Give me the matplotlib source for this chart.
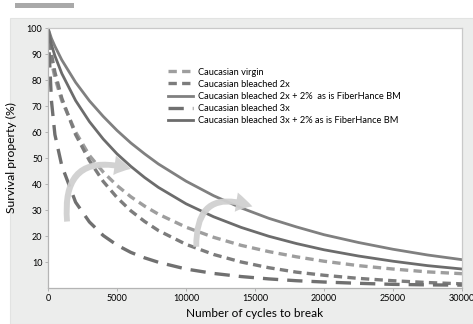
import matplotlib.pyplot as plt
from matplotlib.patches import Rectangle, FancyArrowPatch

plt.rcParams['font.family'] = ['Lato', 'DejaVu Sans']
plt.rcParams['lines.scale_dashes'] = False

# values (survival % vs cycles)
cycles = [0, 250, 500, 1000, 2000, 3000, 4000, 5000, 6000, 7000, 8000,
          10000, 12000, 14000, 16000, 18000, 20000, 22500, 25000, 27500, 30000]
virgin = [100, 87, 81, 72, 60, 51, 44.6, 39.4, 35.1, 31.5, 28.4,
          23.4, 19.5, 16.4, 14.0, 12.0, 10.3, 8.6, 7.3, 6.2, 5.5]
bleached_2x = [100, 90, 83, 73, 59, 49, 41, 34.8, 29.7, 25.6, 22.1,
               16.8, 12.9, 10.0, 7.8, 6.1, 4.9, 3.7, 2.8, 2.1, 1.6]
bleached_2x_fh = [100, 96, 93, 87.7, 79.1, 72, 66, 60.6, 55.8, 51.6, 47.7,
                  41.1, 35.5, 30.8, 26.8, 23.5, 20.5, 17.5, 14.9, 12.7, 10.9]
bleached_3x = [100, 72, 59, 47, 33, 25.4, 20.2, 16.5, 13.7, 11.6, 9.9,
               7.3, 5.6, 4.4, 3.5, 2.8, 2.3, 1.8, 1.4, 1.2, 1.1]
bleached_3x_fh = [100, 93.6, 89.3, 82.5, 72.1, 64, 57.3, 51.6, 46.8, 42.5, 38.7,
                  32.4, 27.4, 23.3, 19.9, 17.1, 14.7, 12.3, 10.3, 8.6, 7.3]

labels = ['Caucasian virgin',
          'Caucasian bleached 2x',
          'Caucasian bleached 2x + 2%  as is FiberHance BM',
          'Caucasian bleached 3x',
          'Caucasian bleached 3x + 2% as is FiberHance BM']
x_ticks = [0, 5000, 10000, 15000, 20000, 25000, 30000]
y_ticks = [10, 20, 30, 40, 50, 60, 70, 80, 90, 100]

W, H = 473, 324
fig = plt.figure(figsize=(W / 100, H / 100), dpi=100)

# grey panel behind the chart and the small bar on top
fig.patches.append(Rectangle((10 / W, 0), 1, 1 - 18 / H, transform=fig.transFigure,
                             facecolor='#ecedec', edgecolor='#e2e3e2', lw=0.8, zorder=-10))
fig.patches.append(Rectangle((15 / W, 1 - 8 / H), 59 / W, 5 / H, transform=fig.transFigure,
                             facecolor='#a9a9a9', edgecolor='none', zorder=-10))

ax = fig.add_axes([48 / W, 1 - 288 / H, 414 / W, 260 / H])
ax.set_facecolor('white')

ax.plot(cycles, virgin, color='#9e9e9e', lw=2.4, dashes=(6, 3.8), label=labels[0])
ax.plot(cycles, bleached_2x, color='#7c7c7c', lw=2.4, dashes=(6, 3.8), label=labels[1])
ax.plot(cycles, bleached_2x_fh, color='#808080', lw=2.0, label=labels[2])
ax.plot(cycles, bleached_3x, color='#707070', lw=2.4, dashes=(11, 6.5), label=labels[3])
ax.plot(cycles, bleached_3x_fh, color='#6c6c6c', lw=2.0, label=labels[4])

# curved arrows: bleached -> bleached + FiberHance
for tail, head in [((1400, 24.5), (6200, 45.5)), ((10750, 14.8), (15000, 31.0))]:
    arr = FancyArrowPatch(tail, head, connectionstyle='arc3,rad=-0.75',
                          arrowstyle='simple,head_width=14,head_length=12,tail_width=4.2',
                          facecolor='#d0d0d0', edgecolor='none', alpha=0.95, zorder=5)
    ax.add_patch(arr)

ax.set_xlim(0, 30000)
ax.set_ylim(0, 100)
ax.set_xticks(x_ticks)
ax.set_yticks(y_ticks)
ax.tick_params(labelsize=6.5, length=2, width=0.6, color='#aaaaaa', pad=2)

for side in ['top', 'right']:
    ax.spines[side].set_color('#c9c9c9')
for side in ['left', 'bottom']:
    ax.spines[side].set_color('#b4b4b4')
for sp in ax.spines.values():
    sp.set_linewidth(0.9)

ax.set_xlabel('Number of cycles to break', fontsize=8.5, labelpad=4)
ax.set_ylabel('Survival property (%)', fontsize=8.7, labelpad=7)

ax.legend(loc='upper left', bbox_to_anchor=(163 / W, 1 - 63 / H),
          bbox_transform=fig.transFigure, frameon=False, fontsize=6.7,
          handlelength=2.7, handletextpad=0.6, labelspacing=0.33, borderpad=0)

fig.savefig('out.png', dpi=100)
